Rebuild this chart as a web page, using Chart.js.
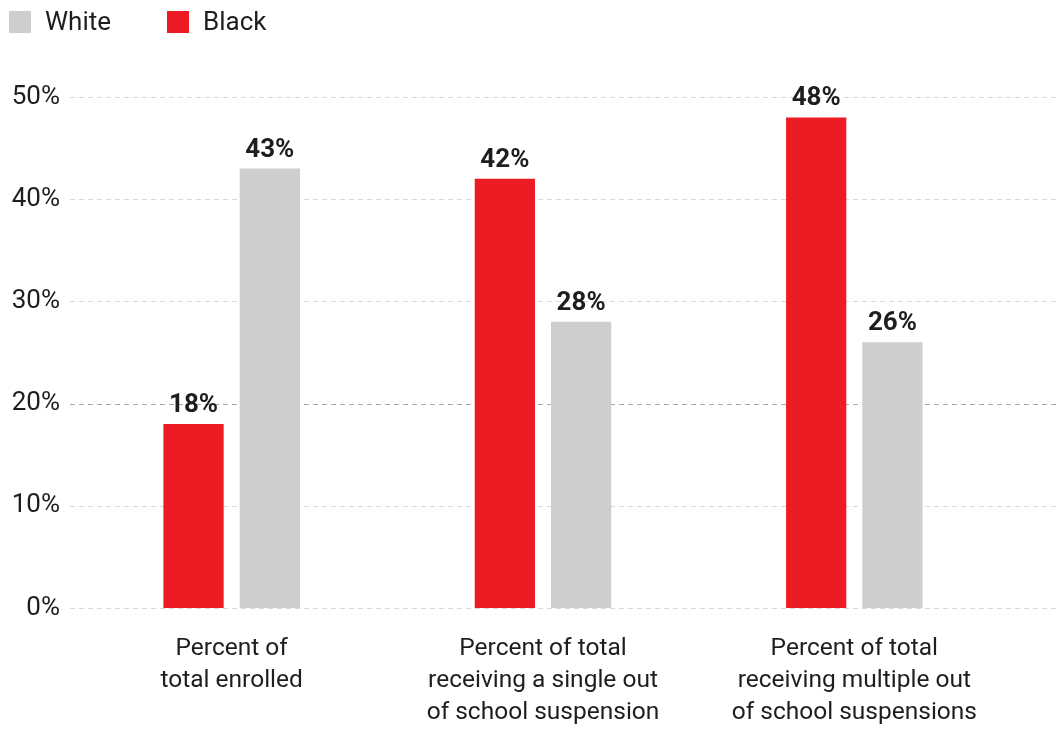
<!DOCTYPE html>
<html>
<head>
<meta charset="utf-8">
<script src="https://cdn.jsdelivr.net/npm/chart.js@4/dist/chart.umd.min.js"></script>
<style>
  html, body { margin: 0; padding: 0; background: #fff; overflow: hidden; }
  #wrap { width: 1056px; height: 729px; position: relative; }
</style>
</head>
<body>
<div id="wrap"><canvas id="c" width="1056" height="729"></canvas></div>
<script>
// Suspension shares by race
const categories = [
  ['Percent of', 'total enrolled'],
  ['Percent of total', 'receiving a single out', 'of school suspension'],
  ['Percent of total', 'receiving multiple out', 'of school suspensions']
];
const blackValues = [18, 42, 48];
const whiteValues = [43, 28, 26];
const seriesNames = ['Black', 'White'];
const yTickValues = [0, 10, 20, 30, 40, 50];

const RED = '#ED1C24';
const GRAY = '#CDCED0';
const TEXT = '#1e1e1e';
const FONT = 'Roboto, "Open Sans", sans-serif';

// Dashed horizontal guides that run to the right edge of the canvas
const guideLines = {
  id: 'guideLines',
  beforeDatasetsDraw(chart) {
    const { ctx, scales: { y } } = chart;
    ctx.save();
    ctx.lineWidth = 1;
    ctx.setLineDash([5, 4]);
    yTickValues.forEach(v => {
      const py = Math.round(y.getPixelForValue(v)) + 0.5;
      ctx.strokeStyle = v === 20 ? '#a8a8a8' : '#d9d9d9';
      ctx.beginPath();
      ctx.moveTo(70, py);
      ctx.lineTo(chart.width, py);
      ctx.stroke();
    });
    ctx.restore();
  }
};

// Value labels above each bar
const valueLabels = {
  id: 'valueLabels',
  afterDatasetsDraw(chart) {
    const { ctx } = chart;
    ctx.save();
    ctx.font = 'bold 26px ' + FONT;
    ctx.fillStyle = TEXT;
    ctx.textAlign = 'center';
    ctx.textBaseline = 'alphabetic';
    chart.data.datasets.forEach((ds, i) => {
      chart.getDatasetMeta(i).data.forEach((bar, j) => {
        ctx.fillText(ds.data[j] + '%', bar.x, bar.y - 12);
      });
    });
    ctx.restore();
  }
};

// Legend in the top-left corner: White first, then Black
const cornerLegend = {
  id: 'cornerLegend',
  afterDraw(chart) {
    const { ctx } = chart;
    const items = chart.data.datasets.slice().reverse();
    const xs = [9, 167];
    ctx.save();
    ctx.font = '26px ' + FONT;
    ctx.textBaseline = 'middle';
    ctx.textAlign = 'left';
    items.forEach((ds, k) => {
      ctx.fillStyle = ds.backgroundColor;
      ctx.fillRect(xs[k], 11, 22, 22);
      ctx.fillStyle = TEXT;
      ctx.fillText(ds.label, xs[k] + 36, 23);
    });
    ctx.restore();
  }
};

new Chart(document.getElementById('c'), {
  type: 'bar',
  data: {
    labels: categories,
    datasets: [
      { label: seriesNames[0], data: blackValues, backgroundColor: RED },
      { label: seriesNames[1], data: whiteValues, backgroundColor: GRAY }
    ]
  },
  options: {
    responsive: false,
    animation: false,
    devicePixelRatio: 1,
    categoryPercentage: 0.49,
    barPercentage: 0.79,
    layout: { padding: { top: 97, right: 46, bottom: 0, left: 0 } },
    plugins: {
      legend: { display: false },
      tooltip: { enabled: false }
    },
    scales: {
      x: {
        grid: { display: false },
        border: { display: false },
        ticks: {
          color: TEXT,
          font: { family: FONT, size: 24.5, lineHeight: 1.3 },
          padding: 17,
          maxRotation: 0,
          autoSkip: false
        },
        afterFit(s) { s.height = 121; }
      },
      y: {
        min: 0,
        max: 50,
        grid: { display: false, drawTicks: false },
        border: { display: false },
        ticks: {
          stepSize: 10,
          color: TEXT,
          font: { family: FONT, size: 26 },
          padding: 16,
          callback: v => v + '%'
        },
        afterFit(s) { s.width = 76; }
      }
    }
  },
  plugins: [guideLines, valueLabels, cornerLegend]
});
</script>
</body>
</html>
